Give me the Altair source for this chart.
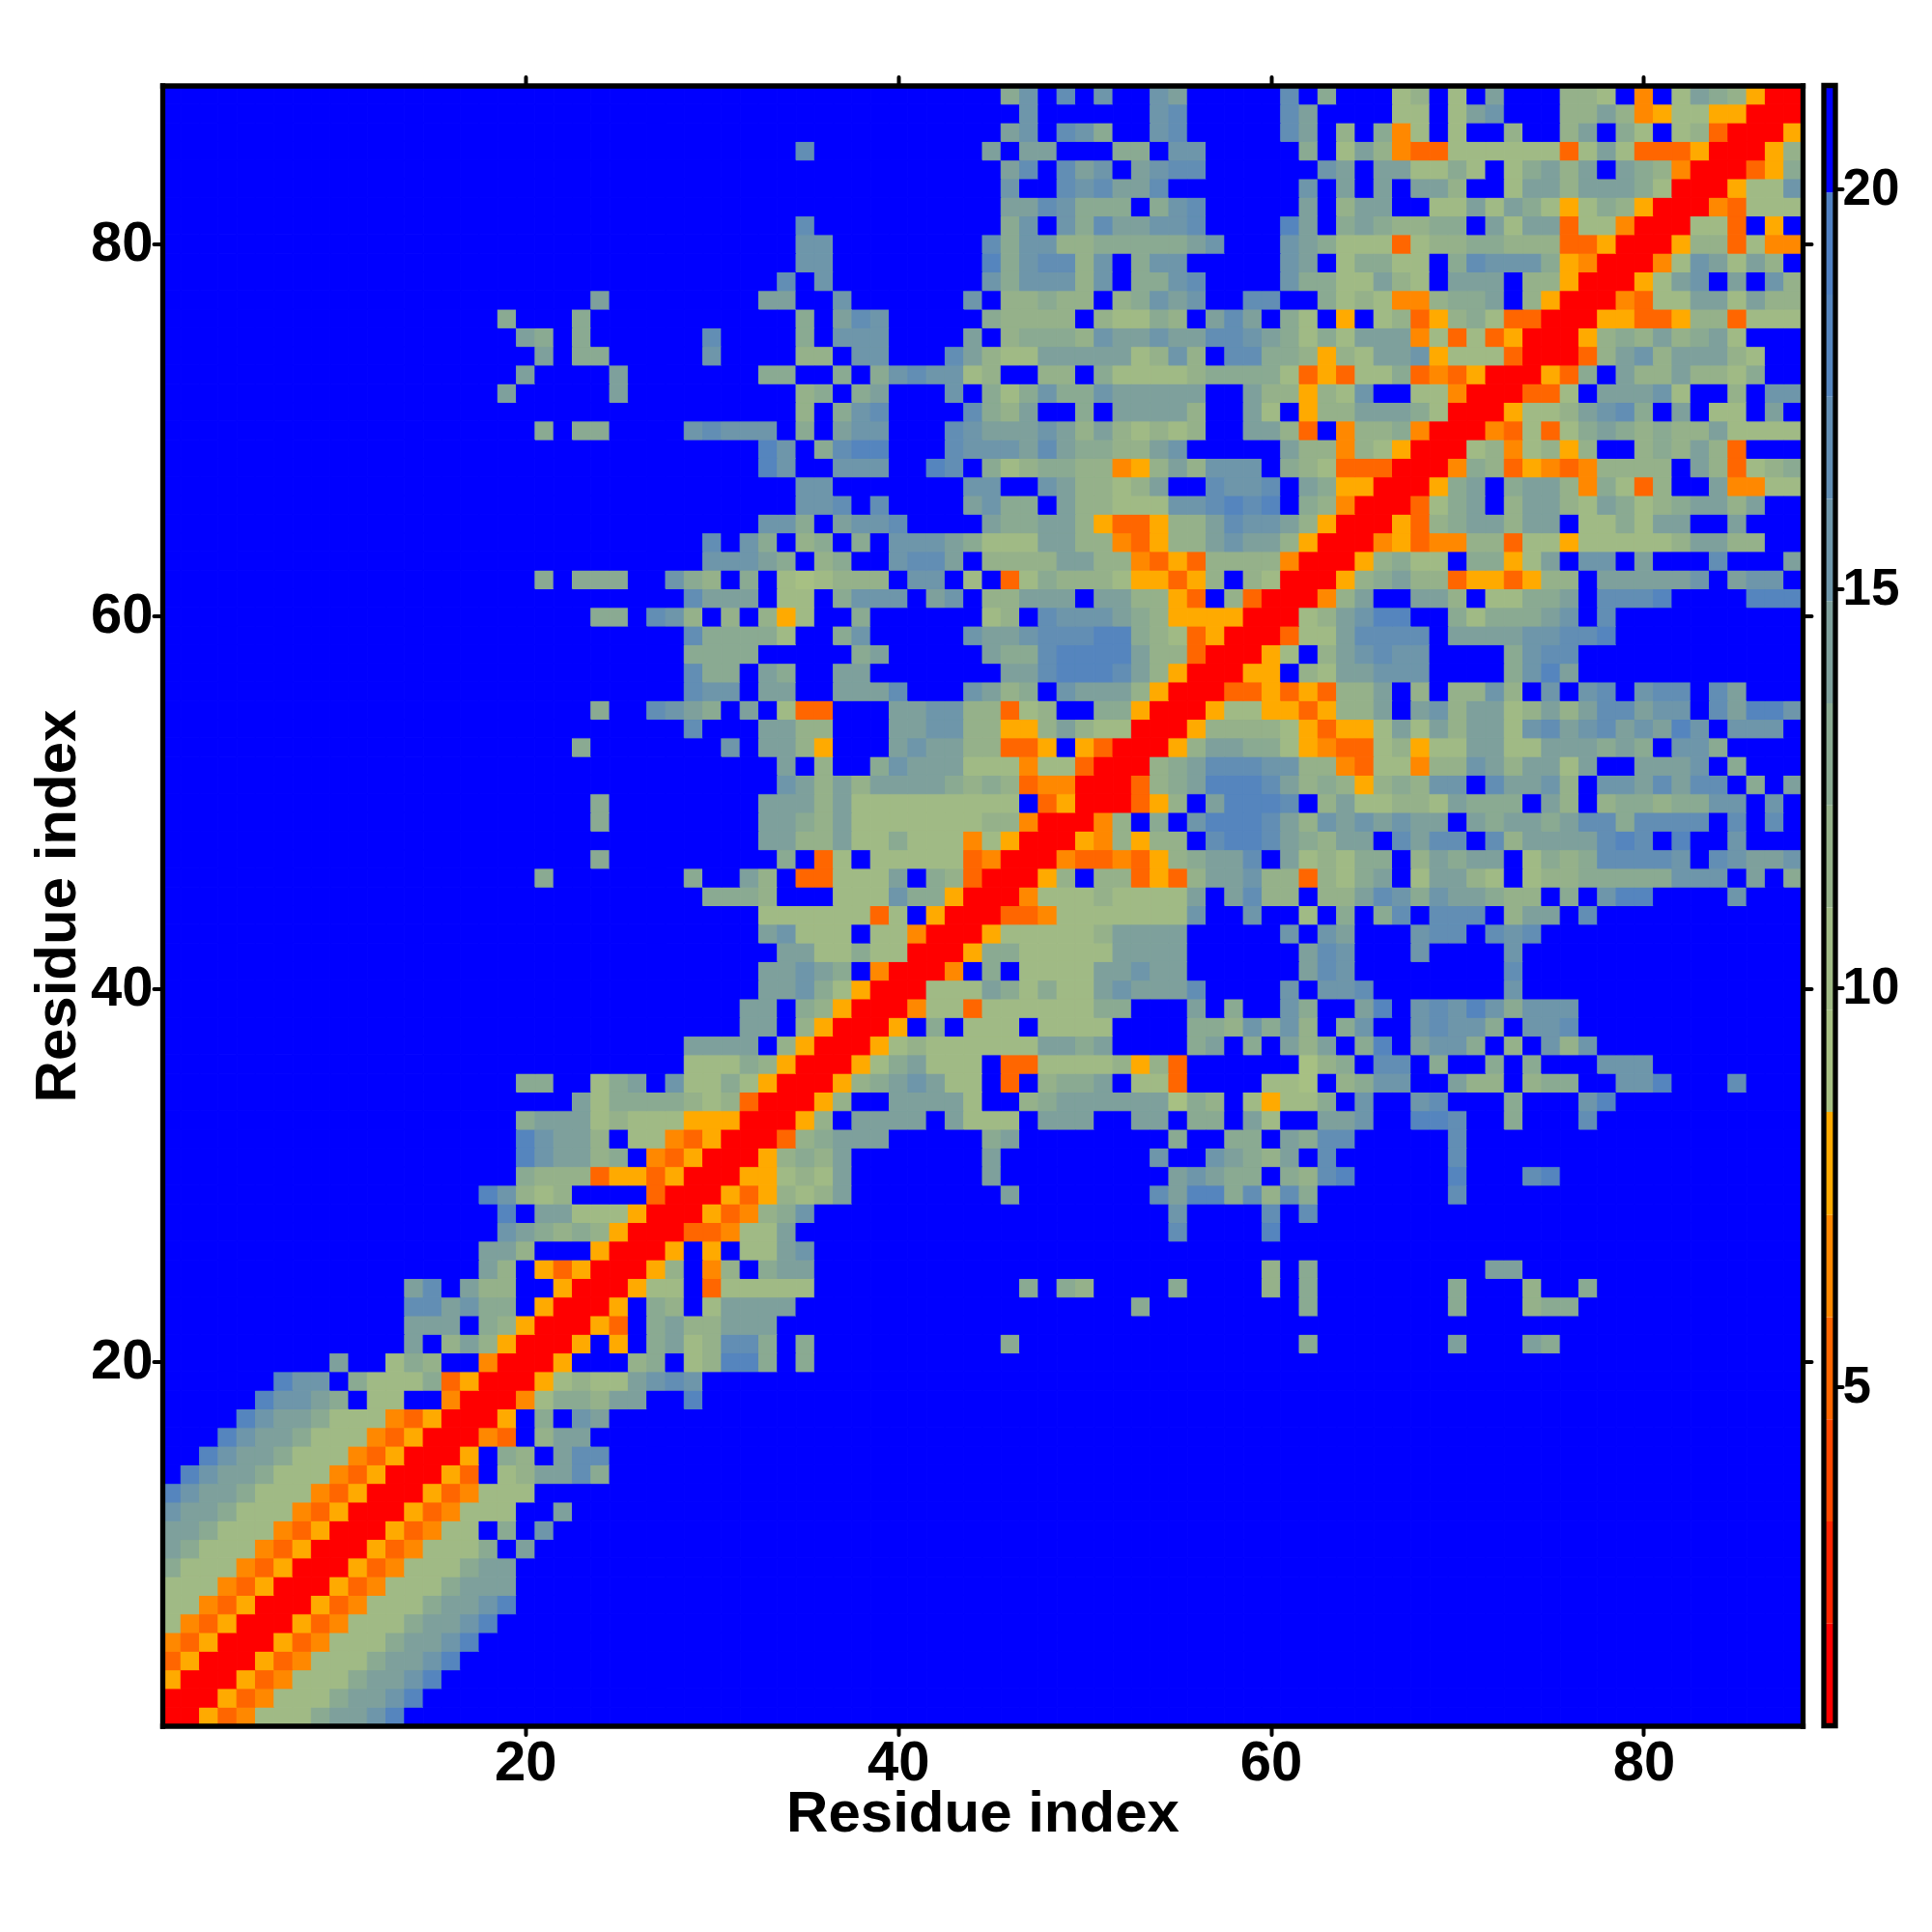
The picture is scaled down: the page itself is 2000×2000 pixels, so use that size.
import altair as alt
import pandas as pd

alt.data_transformers.disable_max_rows()

N = 88
TICKS = [20, 40, 60, 80]
BAR_TICKS = [5, 10, 15, 20]
AXIS_TITLE = "Residue index"
FONT = "Liberation Sans"

# colour levels of the distance map, lowest first
LEVEL_KEYS = ["R", "X", "Y", "D", "O", "A", "1", "2", "3", "4", "5", "6", "7", "8", "9", "."]
LEVEL_COLORS = ["#FF0000", "#FF2400", "#FF4800", "#FF6600", "#FF8800", "#FFAA00",
                "#A7C083", "#A0BA85", "#95B18A", "#8AAA92", "#7EA09C", "#6E96AA",
                "#628EB4", "#5585BE", "#4F80C2", "#0000FF"]
LEVEL_EDGES = [0.75, 2.03, 3.31, 4.59, 5.87, 7.15, 8.44, 9.72, 11.0, 12.28,
               13.56, 14.84, 16.12, 17.4, 18.68, 19.96, 21.3]

# row number -> [(first column, level keys...)]; everything else is level "."
ROWS = {
1: [(1, "RRADO22245568")],
2: [(1, "RRRADO22245568")],
3: [(1, "ARRRADO22245568")],
4: [(1, "DARRRADO22245568")],
5: [(1, "ODARRRADO22245568")],
6: [(1, "2ODARRRADO22245568")],
7: [(1, "22ODARRRADO22245568")],
8: [(1, "222ODARRRADO2224555")],
9: [(1, "4222ODARRRADO222455")],
10: [(1, "54222ODARRRADO2224.5")],
11: [(1, "554222ODARRRADO22.4.6")],
12: [(1, "6554222ODARRRADO222..5")],
13: [(1, "86554222ODARRRADO222")],
14: [(1, ".86554222ODARRRAD.235574")],
15: [(1, "..86554222ODARRRA.43.577")],
16: [(1, "...86554222ODARRROD.355")],
17: [(1, "....86554222ODARRRA.4.65")],
18: [(1, ".....86654.22..ORRRO244355..8")],
19: [(1, "......866.42224DARRRA23225676")],
20: [(10, "5..243..ORRRA...34.23884.4")],
21: [(14, "5.353ARRRA.A.4523774.4"), (46, "4"), (62, "4"), (70, "5"), (74, "54")],
22: [(14, "555.43ARRRAD.4533555")],
23: [(14, "775644.ARRRA.43.25555"), (53, "4"), (62, "4"), (70, "4"), (74, "344")],
24: [(14, "57.533..ARRRA22.D22222"), (47, "4"), (49, "43"), (55, "4"), (60, "3"), (62, "4"), (70, "4"), (74, "3"), (77, "4")],
25: [(18, "53.ADARRRA3.O3.455"), (60, "3"), (62, "4"), (72, "55")],
26: [(18, "553...ARRRA.A.2256")],
27: [(19, "654343ARRRDDO225"), (55, "7"), (60, "8")],
28: [(19, "8.55222ARRRADO346"), (55, "6"), (60, "7"), (62, "7")],
29: [(18, "86323....DRRRADA3235"), (46, "5"), (54, "758847374"), (70, "7")],
30: [(20, "4333DAADARRRAA2325"), (45, "5"), (55, "56544.4378"), (70, "8"), (74, "78")],
31: [(20, "865534.ODARRRA3435"), (45, "5"), (54, "6"), (57, "65435.7"), (70, "7")],
32: [(20, "86553.22ODARRRD34555"), (45, "45"), (55, "4"), (58, "44.5477"), (70, "7")],
33: [(20, "455523222AAARRRA3.5555.5222.555..55.44.52..556..887"), (73, "4"), (77, "7")],
34: [(23, "524444323DRRRA3..55552..34555555143.2A224.6"), (68, "67"), (73, "4"), (77, "68")],
35: [(20, "44..245.62242ARRRA3456522.D.3445.22D....221.3466..533.344..668"), (85, "7")],
36: [(29, "22243ARRRA245222.DD22223A3D......134.77.4..4.4...666")],
37: [(29, "5555.3ARRRA232222225545....45.4.535.48.5664.3.636")],
38: [(32, "55.3ARRRA.4.222.2222....4436463.46..67664.667")],
39: [(32, "55.43ARRRO22D22222244...5.4..64..58.676864666")],
40: [(33, "55642ARRR222542422565557....6.667"), (73, "6")],
41: [(33, "55654.ORRRO.4.222255655......576"), (73, "7")],
42: [(34, "5522422RRRA44222225555......576"), (68, "6"), (73, "6")],
43: [(33, "56222.22ORRRA2222235555.....6.65...677.767")],
44: [(33, "222222D2.ARRRDDO22222226..6..2.4.47.777.355.7")],
45: [(30, "4443...222644ARRRO222322225.5733.335764655433.4.688"), (85, "6")],
46: [(21, "4"), (29, "4..53.DD2225.43DRRRA3.33DAD355633D3245.25532.23344444666.5.4")],
47: [(24, "4"), (34, "4.D2.22222DORRRODDODA34557.523244.35455.243477776.76556")],
48: [(33, "55335224222O2ARRRAO3A33.788754355.7577.735555787.8..6")],
49: [(24, "4"), (33, "55435222222233ORRRO3.4.68887536565655.5455457747777.7.7")],
50: [(24, "4"), (33, "55535222222222.DARRRDA3.58887.35223325444.53.34434466.6")],
51: [(34, "6535355554343DOORRRD34588875343A34366.75563.6657577.4.5")],
52: [(34, "5.3..46555222O22DRRR3457776633OD22O336535525..5556.4")],
53: [(23, "4"), (31, "6.553A...565533DDA.ADRRRA355442AODD23A225522555454.664")],
54: [(29, "7...5533...556633AA35322RRRA33332ADAA2525355267567 56586.666".replace(" ", ""))],
55: [(24, "4"), (27, "7654.5.2DD...556633D23..44ARRRA22AADA335.56355235 3577566.75886".replace(" ", ""))],
56: [(29, "766.55..5557...6534.65553ARRRDDADAD335.3.3363.6.67.677.75")],
57: [(29, "744.54..55.......5578887 53ARRRAA.3255666....4685".replace(" ", ""))],
58: [(29, "4444.....45.....5447888853 3DRRRA2.356766....4677".replace(" ", ""))],
59: [(29, "744442..46.....6556777 88432DARRRD2257777.555566778".replace(" ", ""))],
60: [(24, "44.763.3.3A2..4......23.7666543AAAARRR235688..4244456.7")],
61: [(29, "7555.22.4666.56.33555.5533AD.3DRRRO35..553.22445.7778....888")],
62: [(21, "4"), (23, "444"), (28, "643.4.212333.66.2.D243332AADA3.32RRRA34533DAADA33.555556.566")],
63: [(30, "66654.34..6775.33335533ODAD3333ORRRA3422.44A25.66.5...7...5")],
64: [(30, "7.64.34.4.66654222553 3ODA33565 53ARRROADOO33D22A2222235533".replace(" ", ""))],
65: [(33, "664.5667....5445 53ADDA3357665 3ARRRAD3455355.224255..5".replace(" ", ""))],
66: [(35, "667.7....5644.53322266 7878.43ORRRD245.355325423 45535".replace(" ", ""))],
67: [(35, "66.......66..6533235..7667.54AARRRA45.4553O42D3..5OO22")],
68: [(33, "86..666..87.4234433OA353666.432DDDRRRO43DAODO3333.53D234")],
69: [(33, "86.4788...7666575443356.....533O32ARRR23O23A3..34353D")],
70: [(21, "4"), (23, "44"), (29, "67666.4.566...76555653532323..553D.O334ORRROD2D2454343352222")],
71: [(35, "3.467....7435..4.55553..52.A335554 2RRRA2235674.5.22.5".replace(" ", ""))],
72: [(19, "5"), (25, "5"), (35, "34.45...6.424644655555"), (57, "..533A326..22ORRRDD2.55562..3.66")],
73: [(20, "5"), (25, "5"), (33, "44..4.4676623..33.4222234 4 4 42DAD224DODARRRAD4.5335 33 24".replace(" ", ""))],
74: [(21, "5"), (23, "44"), (30, "6"), (35, "33.66...753225555523 63.77443A3255 6A222DRRRD3563555 32".replace(" ", ""))],
75: [(20, "54"), (23, "4"), (30, "7"), (35, "4.666....5.34443655655 77654242555O2D2DARRRA34353452".replace(" ", ""))],
76: [(19, "4"), (23, "4"), (35, "4.576.....43333.32243.575.42.A.23DA342DDRRRAADDA33D222")],
77: [(24, "5"), (33, "55..6......6.33433.34656..77..4232OO344 5.3ARRROD22552533".replace(" ", ""))],
78: [(34, "7.6........6466636.4467....644225 32.555.33ARRRA256.5.63".replace(" ", ""))],
79: [(35, "66........8467736.466.....65.24422.476664AORRRO265253.")],
80: [(35, "66........74663344444 56...654222D23344333DDARRRA33D2OO".replace(" ", ""))],
81: [(35, "7"), (46, "46.64755667....85.4543344.5255D22ORRR22D.A.")],
82: [(46, "5576444.467.....5.355..2252542A243ARRROD222")],
83: [(46, "6..767557.......6.5.5.553..2553555 42RRRA226".replace(" ", ""))],
84: [(46, "57.756.5677......65.552242.24535.543ORRRDA4")],
85: [(35, "7"), (45, "5.55...44.66.....4.253ODD222222D252DDDARRRA3")],
86: [(46, "56.764..67.....75.3.4O2.2..3..35.42.23DRRRA")],
87: [(47, "6......67.....75....22.256...3353OA22AARRR")],
88: [(46, "46.7.6..65.....7.4...23.2.5...332.O.2543ARR")],
}

records = []
problems = []
for r in range(1, N + 1):
    row = ["."] * N
    for start, text in ROWS[r]:
        if start - 1 + len(text) > N:
            problems.append((r, "long", start - 1 + len(text)))
        for i, ch in enumerate(text):
            if start - 1 + i < N:
                row[start - 1 + i] = ch
    if row[r - 1] != "R":
        problems.append((r, "diag", row[r - 1], "".join(row[max(0, r - 3):r + 2])))
    for c, ch in enumerate(row, start=1):
        records.append({"x": c, "y": r, "c": LEVEL_COLORS[LEVEL_KEYS.index(ch)]})
if problems:
    raise SystemExit(str(problems))

cells = pd.DataFrame(records)
tick_df = pd.DataFrame({"x": TICKS, "y": TICKS})
bar_df = pd.DataFrame({"lo": LEVEL_EDGES[:-1], "hi": LEVEL_EDGES[1:], "c": LEVEL_COLORS})
bar_frame = pd.DataFrame({"lo": [LEVEL_EDGES[0]], "hi": [LEVEL_EDGES[-1]]})

x_scale = alt.Scale(domain=list(range(1, N + 1)), paddingInner=0, paddingOuter=0, round=False)
y_scale = alt.Scale(domain=list(range(N, 0, -1)), paddingInner=0, paddingOuter=0, round=False)

common = dict(domain=True, domainColor="black", domainWidth=5.3, domainCap="square",
              ticks=True, tickColor="black", tickWidth=4, tickSize=9, tickCap="round",
              grid=False, zindex=1, values=TICKS, labelFont=FONT, labelFontWeight="bold",
              labelColor="black", titleFont=FONT, titleFontWeight="bold", titleColor="black")

heat = alt.Chart(cells).mark_rect(strokeWidth=1).encode(
    x=alt.X("x:O", scale=x_scale, axis=alt.Axis(orient="bottom", title=AXIS_TITLE, labelAngle=0,
            labelFontSize=58, labelPadding=1, titleFontSize=60, titlePadding=-6, **common)),
    y=alt.Y("y:O", scale=y_scale, axis=alt.Axis(orient="left", title=AXIS_TITLE, labelAngle=0,
            labelFontSize=58, labelPadding=1, titleFontSize=60, titlePadding=3, **common)),
    color=alt.Color("c:N", scale=None),
    stroke=alt.Stroke("c:N", scale=None),
)
top_right = alt.Chart(tick_df).mark_point(opacity=0).encode(
    x=alt.X("x:O", scale=x_scale, axis=alt.Axis(orient="top", title=None, labels=False, **common)),
    y=alt.Y("y:O", scale=y_scale, axis=alt.Axis(orient="right", title=None, labels=False, **common)),
)
main = alt.layer(heat, top_right).resolve_axis(x="independent", y="independent").properties(width=1698, height=1698)

bar_scale = alt.Scale(domain=[LEVEL_EDGES[0], LEVEL_EDGES[-1]], nice=False, zero=False)
bar_rect = alt.Chart(bar_df).mark_rect().encode(
    x=alt.value(0), x2=alt.value(12),
    y=alt.Y("lo:Q", scale=bar_scale, axis=alt.Axis(orient="right", title=None, values=BAR_TICKS,
            domain=False, tickColor="black", tickWidth=4, tickSize=7, tickCap="round", grid=False,
            labelFont=FONT, labelFontWeight="bold", labelColor="black", labelFontSize=53,
            labelPadding=0, format="d")),
    y2="hi:Q",
    color=alt.Color("c:N", scale=None),
)
bar_box = alt.Chart(bar_frame).mark_rect(fillOpacity=0, stroke="black", strokeWidth=5.3).encode(
    x=alt.value(0), x2=alt.value(12), y=alt.Y("lo:Q", scale=bar_scale), y2="hi:Q",
)
bar = alt.layer(bar_rect, bar_box).properties(width=12, height=1698)

chart = alt.hconcat(main, bar, spacing=22, bounds="flush").properties(
    padding={"left": 21, "top": 69.5, "right": 0, "bottom": 0}
).configure_view(stroke=None)

chart.save("out.html", embed_options={"renderer": "svg", "actions": False})
